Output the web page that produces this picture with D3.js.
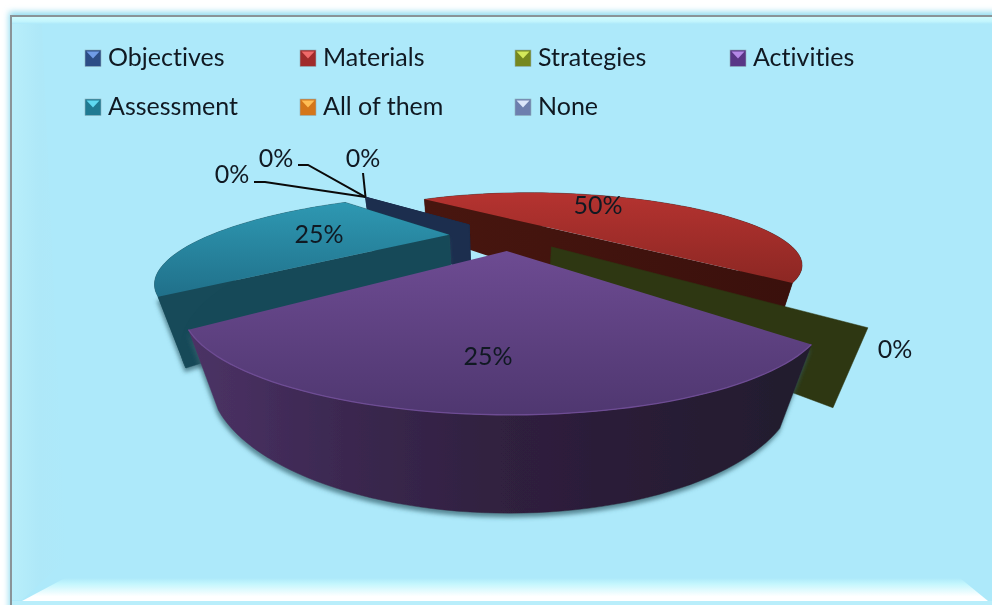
<!DOCTYPE html>
<html><head><meta charset="utf-8">
<script src="https://cdn.jsdelivr.net/npm/d3@7"></script>
<style>html,body{margin:0;padding:0;background:#fff;overflow:hidden}svg{display:block;filter:blur(.45px)}text{font-family:Lato,"Open Sans",sans-serif;fill:#101922;font-variant-ligatures:none}</style>
</head><body><svg id="c" width="992" height="605"></svg>
<script>
const categories = ["Objectives","Materials","Strategies","Activities","Assessment","All of them","None"];
const values = [0,50,0,25,25,0,0];
const sliceLabels = ["0%","50%","0%","25%","25%","0%","0%"];
const baseColors = ["#2c4d86","#a02b2b","#76881f","#593686","#1f7a92","#d4761a","#6d7fae"];
const glowColors = ["#6f9be6","#ef6a6a","#d4e85a","#b488e6","#5fd8f0","#ffbe55","#dbe6fa"];
const topStops = {1:["#b53330","#8c2723"],3:["#6d4b92","#4f3770"],4:["#2e98b2","#20708a"]};
const wallColors = ["#1c2e4e","#41130f","#2e3712","#34213f","#174a59","#1c2e4e","#1c2e4e"];
const radii = [2.25,2.085,1.98,2.02,2.15,2.25,2.25];
const radiusSkew = [0,-.007,0,.013,.033,0,0];
const arcFlat = [0,0,0,.04,0,0,0];
const edgeShift = [0,0,-1.5,3,0,0,0];
const explode = [.55,.49,.51,.49,.53,.55,.55];

const svg = d3.select("#c"), defs = svg.append("defs");
const cam = {cx:500, yh:124, f:437, vx:500, vy:1170};
const C0 = {x:.07, w:3.93}, H = .225, ROT = -43*Math.PI/180;

function project(X, W, h=0){
  const x = cam.cx + cam.f*X/W, y = cam.yh + cam.f/W;
  return [(W*x + h*cam.vx)/(W+h), (W*y + h*cam.vy)/(W+h)];
}
const dir = a => ({x:Math.sin(a+ROT), w:Math.cos(a+ROT)});
const pie = d3.pie().sort(null).value(d=>d).startAngle(0).endAngle(2*Math.PI);
const line = d3.line();
const slices = pie(values).map((s,i)=>{
  const mid=(s.startAngle+s.endAngle)/2, half=(s.endAngle-s.startAngle)/2, m = dir(mid);
  const c = {x:C0.x+explode[i]*m.x, w:C0.w+explode[i]*m.w};
  const at = (a,h=0)=>{
    const f = half>0 ? (a-mid)/half : 1;
    const d=dir(a+edgeShift[i]*Math.PI/180*(half>0?(f+1)/2:1));
    const r=radii[i]*(1+radiusSkew[i]*f-arcFlat[i]*Math.cos(2*(a-mid)));
    return project(c.x+r*d.x,c.w+r*d.w,h);
  };
  const angles = d3.range(0,61).map(k=>s.startAngle+(s.endAngle-s.startAngle)*k/60);
  return {i,s,c,at,angles,centre:h=>project(c.x,c.w,h)};
});

const grad=(id,x2,y2,stops)=>{const g=defs.append("linearGradient").attr("id",id).attr("x1",0).attr("y1",0).attr("x2",x2).attr("y2",y2);
  stops.forEach(([o,c])=>g.append("stop").attr("offset",o).attr("stop-color",c));return `url(#${id})`;};
const glow=defs.append("filter").attr("id","glow").attr("x","-5%").attr("y","-5%").attr("width","110%").attr("height","110%");
glow.append("feGaussianBlur").attr("stdDeviation",3);
svg.append("rect").attr("x",9).attr("y",12).attr("width",1000).attr("height",600).attr("fill","#8fdcf0").attr("filter","url(#glow)");
svg.append("rect").attr("x",11).attr("y",16).attr("width",1000).attr("height",600).attr("fill","#ade9fa").attr("stroke","#8a9498").attr("stroke-width",2);
const polyg=(pts,fill)=>svg.append("path").attr("d",line(pts)+"Z").attr("fill",fill);
polyg([[12,17],[42,24],[66,560],[22,600],[12,600]],grad("bl",1,0,[[0,"#b8eefa"],[.5,"#aee8f8"],[1,"#ade9fa"]]));
polyg([[12,17],[992,17],[992,24],[12,24]],grad("bt",0,1,[[0,"#cdfbfe"],[.6,"#c4f6fd"],[1,"#ade9fa"]]));
polyg([[22,601],[65,578],[960,578],[988,601]],grad("bb",0,1,[[0,"#ade9fa"],[.25,"#c3f6fd"],[.8,"#ffffff"],[1,"#ffffff"]]));
svg.append("rect").attr("x",12).attr("y",601).attr("width",980).attr("height",4).attr("fill","#b9eefb");

const sh=defs.append("filter").attr("id","sh").attr("x","-10%").attr("y","-10%").attr("width","120%").attr("height","130%");
sh.append("feDropShadow").attr("dx",-1).attr("dy",4).attr("stdDeviation",2).attr("flood-color","#33606c").attr("flood-opacity",.7);

const wallFill = i => i===3
  ? grad("w3",1,0,[[0,"#4c3266"],[.25,"#3b2850"],[.5,"#30203f"],[.7,"#2a1d37"],[1,"#221a2d"]])
  : i===1 ? grad("w1",1,0,[[0,"#48160f"],[1,"#3a100c"]]) : wallColors[i];
function drawSlice(sl){
  const g=svg.append("g"), {i,s,at,angles,centre}=sl, fill=wallFill(i), has=s.endAngle>s.startAngle;
  const wall=(a,filter)=>g.append("path").attr("d",line([centre(0),at(a,0),at(a,H),centre(H)])+"Z")
    .attr("fill",fill).attr("stroke",fill).attr("stroke-width",.5).attr("filter",filter||null);
  if(has){
    const outer=angles.map(a=>at(a,0)).concat(angles.slice().reverse().map(a=>at(a,H)));
    if(i!==1 && i!==3){
      wall(s.endAngle);
      wall(s.startAngle,"url(#sh)");
    }
    g.append("path").attr("d",line(outer)+"Z").attr("fill",i===1?"#3a100c":fill).attr("stroke",i===1?"#3a100c":fill).attr("stroke-width",.5)
      .attr("filter",i===3?"url(#sh)":null);
    if(i===1){
      // the half-pie's two cut faces are one flat wall, in front of its back rim
      g.append("path").attr("d",line([at(s.startAngle,0),at(s.endAngle,0),at(s.endAngle,H),at(s.startAngle,H)])+"Z").attr("fill",fill);
    }
    const t=topStops[i];
    const pts=[centre(0)].concat(angles.map(a=>at(a,0)));
    g.append("path").attr("d",line(pts)+"Z").attr("fill",grad("t"+i,0,1,[[0,t[0]],[1,t[1]]]));
    if(i===3) g.append("path").attr("d",line(angles.map(a=>at(a,0)))).attr("fill","none").attr("stroke","#6e4c94").attr("stroke-width",1.3);
  } else {
    wall(s.startAngle);
  }
}
[1,0,5,6,4,2,3].forEach(i=>drawSlice(slices[i]));

const labelPos=[[363,158],[598,205],[895,349],[488,356],[319,234],[232,174],[276,158]];
sliceLabels.forEach((t,i)=>svg.append("text").attr("x",labelPos[i][0]).attr("y",labelPos[i][1]+8.5)
  .attr("text-anchor","middle").attr("font-size",25).text(t));

const tip=slices[0].at(0,0);
[[[254,182],[265,182]],[[298,165],[308,165]],[[363,173]]].forEach(p=>
  svg.append("path").attr("d",line(p.concat([tip]))).attr("fill","none").attr("stroke","#0a0a0a").attr("stroke-width",2));

const colX=d3.scalePoint().domain([0,1,2,3]).range([85,730]);
const rowY=d3.scalePoint().domain([0,1]).range([50,99]);
categories.forEach((c,i)=>{
  const x=colX(i%4), y=rowY(Math.floor(i/4)), g=svg.append("g").attr("transform",`translate(${x},${y})`);
  g.append("rect").attr("width",16).attr("height",16.5).attr("fill",baseColors[i]).attr("stroke","#8fb3bd").attr("stroke-width",.6);
  g.append("path").attr("d",line([[1.5,1.5],[14.5,1.5],[8,8.5]])+"Z").attr("fill",glowColors[i]);
  g.append("text").attr("x",23).attr("y",16).attr("font-size",25).text(c);
});
</script></body></html>
